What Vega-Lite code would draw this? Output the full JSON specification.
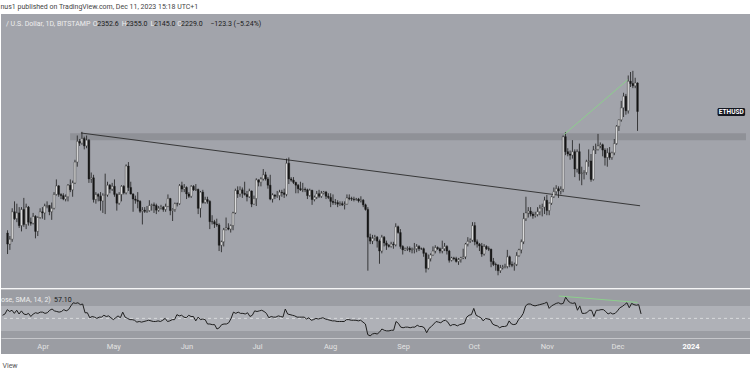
{
"$schema":"https://vega.github.io/schema/vega-lite/v6.json",
"background":"#ffffff",
"padding":{"left":0,"right":0,"top":3,"bottom":0},
"spacing":0,
"title":{"text":"nus1 published on TradingView.com, Dec 11, 2023 15:18 UTC+1","anchor":"start","fontSize":7,"fontWeight":"normal","color":"#444444","font":"Roboto","offset":4},
"config":{"view":{"stroke":null},"font":"Roboto"},
"datasets":{"eth":[
{"d":"2023-03-15","o":1703,"h":1715,"l":1612,"c":1655,"r":55},
{"d":"2023-03-16","o":1655,"h":1690,"l":1630,"c":1676,"r":57},
{"d":"2023-03-17","o":1676,"h":1810,"l":1665,"c":1795,"r":64},
{"d":"2023-03-18","o":1795,"h":1840,"l":1760,"c":1765,"r":61},
{"d":"2023-03-19","o":1765,"h":1830,"l":1750,"c":1790,"r":63},
{"d":"2023-03-20","o":1790,"h":1815,"l":1725,"c":1735,"r":58},
{"d":"2023-03-21","o":1735,"h":1815,"l":1710,"c":1805,"r":63},
{"d":"2023-03-22","o":1805,"h":1855,"l":1730,"c":1740,"r":57},
{"d":"2023-03-23","o":1740,"h":1830,"l":1720,"c":1815,"r":62},
{"d":"2023-03-24","o":1815,"h":1820,"l":1735,"c":1750,"r":57},
{"d":"2023-03-25","o":1750,"h":1770,"l":1735,"c":1745,"r":56},
{"d":"2023-03-26","o":1745,"h":1790,"l":1740,"c":1775,"r":58},
{"d":"2023-03-27","o":1775,"h":1780,"l":1680,"c":1710,"r":53},
{"d":"2023-03-28","o":1710,"h":1775,"l":1690,"c":1770,"r":57},
{"d":"2023-03-29","o":1770,"h":1810,"l":1765,"c":1795,"r":59},
{"d":"2023-03-30","o":1795,"h":1815,"l":1765,"c":1790,"r":58},
{"d":"2023-03-31","o":1790,"h":1830,"l":1760,"c":1820,"r":60},
{"d":"2023-04-01","o":1820,"h":1840,"l":1810,"c":1822,"r":60},
{"d":"2023-04-02","o":1822,"h":1825,"l":1780,"c":1795,"r":58},
{"d":"2023-04-03","o":1795,"h":1835,"l":1760,"c":1810,"r":59},
{"d":"2023-04-04","o":1810,"h":1880,"l":1805,"c":1870,"r":63},
{"d":"2023-04-05","o":1870,"h":1935,"l":1865,"c":1907,"r":65},
{"d":"2023-04-06","o":1907,"h":1910,"l":1860,"c":1870,"r":62},
{"d":"2023-04-07","o":1870,"h":1875,"l":1850,"c":1865,"r":61},
{"d":"2023-04-08","o":1865,"h":1875,"l":1845,"c":1850,"r":60},
{"d":"2023-04-09","o":1850,"h":1870,"l":1840,"c":1860,"r":61},
{"d":"2023-04-10","o":1860,"h":1915,"l":1840,"c":1910,"r":64},
{"d":"2023-04-11","o":1910,"h":1935,"l":1880,"c":1890,"r":62},
{"d":"2023-04-12","o":1890,"h":1930,"l":1860,"c":1920,"r":64},
{"d":"2023-04-13","o":1920,"h":2020,"l":1915,"c":2010,"r":70},
{"d":"2023-04-14","o":2010,"h":2125,"l":1990,"c":2100,"r":75},
{"d":"2023-04-15","o":2100,"h":2110,"l":2080,"c":2092,"r":74},
{"d":"2023-04-16","o":2092,"h":2141,"l":2085,"c":2112,"r":75},
{"d":"2023-04-17","o":2112,"h":2120,"l":2065,"c":2080,"r":72},
{"d":"2023-04-18","o":2080,"h":2125,"l":2070,"c":2105,"r":73},
{"d":"2023-04-19","o":2105,"h":2110,"l":1920,"c":1937,"r":59},
{"d":"2023-04-20","o":1937,"h":1965,"l":1920,"c":1942,"r":59},
{"d":"2023-04-21","o":1942,"h":1955,"l":1835,"c":1848,"r":51},
{"d":"2023-04-22","o":1848,"h":1880,"l":1830,"c":1870,"r":53},
{"d":"2023-04-23","o":1870,"h":1875,"l":1840,"c":1862,"r":52},
{"d":"2023-04-24","o":1862,"h":1880,"l":1800,"c":1842,"r":50},
{"d":"2023-04-25","o":1842,"h":1875,"l":1790,"c":1866,"r":52},
{"d":"2023-04-26","o":1866,"h":1960,"l":1785,"c":1868,"r":52},
{"d":"2023-04-27","o":1868,"h":1925,"l":1860,"c":1910,"r":55},
{"d":"2023-04-28","o":1910,"h":1915,"l":1875,"c":1893,"r":53},
{"d":"2023-04-29","o":1893,"h":1920,"l":1885,"c":1905,"r":54},
{"d":"2023-04-30","o":1905,"h":1935,"l":1860,"c":1870,"r":51},
{"d":"2023-05-01","o":1870,"h":1875,"l":1800,"c":1832,"r":48},
{"d":"2023-05-02","o":1832,"h":1880,"l":1825,"c":1870,"r":51},
{"d":"2023-05-03","o":1870,"h":1910,"l":1840,"c":1905,"r":54},
{"d":"2023-05-04","o":1905,"h":1910,"l":1870,"c":1877,"r":51},
{"d":"2023-05-05","o":1877,"h":2000,"l":1870,"c":1993,"r":60},
{"d":"2023-05-06","o":1993,"h":2010,"l":1885,"c":1900,"r":52},
{"d":"2023-05-07","o":1900,"h":1925,"l":1870,"c":1872,"r":50},
{"d":"2023-05-08","o":1872,"h":1875,"l":1795,"c":1850,"r":48},
{"d":"2023-05-09","o":1850,"h":1865,"l":1830,"c":1845,"r":48},
{"d":"2023-05-10","o":1845,"h":1880,"l":1810,"c":1840,"r":47},
{"d":"2023-05-11","o":1840,"h":1845,"l":1790,"c":1797,"r":44},
{"d":"2023-05-12","o":1797,"h":1815,"l":1740,"c":1802,"r":45},
{"d":"2023-05-13","o":1802,"h":1815,"l":1790,"c":1797,"r":44},
{"d":"2023-05-14","o":1797,"h":1820,"l":1790,"c":1800,"r":45},
{"d":"2023-05-15","o":1800,"h":1845,"l":1795,"c":1822,"r":46},
{"d":"2023-05-16","o":1822,"h":1830,"l":1800,"c":1825,"r":47},
{"d":"2023-05-17","o":1825,"h":1835,"l":1790,"c":1822,"r":46},
{"d":"2023-05-18","o":1822,"h":1830,"l":1785,"c":1802,"r":45},
{"d":"2023-05-19","o":1802,"h":1820,"l":1795,"c":1810,"r":45},
{"d":"2023-05-20","o":1810,"h":1825,"l":1805,"c":1815,"r":46},
{"d":"2023-05-21","o":1815,"h":1820,"l":1795,"c":1805,"r":45},
{"d":"2023-05-22","o":1805,"h":1830,"l":1795,"c":1818,"r":47},
{"d":"2023-05-23","o":1818,"h":1870,"l":1815,"c":1852,"r":50},
{"d":"2023-05-24","o":1852,"h":1855,"l":1780,"c":1800,"r":45},
{"d":"2023-05-25","o":1800,"h":1810,"l":1755,"c":1805,"r":46},
{"d":"2023-05-26","o":1805,"h":1835,"l":1795,"c":1830,"r":48},
{"d":"2023-05-27","o":1830,"h":1835,"l":1818,"c":1830,"r":48},
{"d":"2023-05-28","o":1830,"h":1915,"l":1825,"c":1908,"r":56},
{"d":"2023-05-29","o":1908,"h":1925,"l":1880,"c":1893,"r":54},
{"d":"2023-05-30","o":1893,"h":1915,"l":1880,"c":1900,"r":55},
{"d":"2023-05-31","o":1900,"h":1905,"l":1850,"c":1872,"r":52},
{"d":"2023-06-01","o":1872,"h":1880,"l":1855,"c":1862,"r":51},
{"d":"2023-06-02","o":1862,"h":1910,"l":1855,"c":1905,"r":55},
{"d":"2023-06-03","o":1905,"h":1910,"l":1885,"c":1890,"r":53},
{"d":"2023-06-04","o":1890,"h":1915,"l":1885,"c":1892,"r":53},
{"d":"2023-06-05","o":1892,"h":1895,"l":1785,"c":1810,"r":46},
{"d":"2023-06-06","o":1810,"h":1885,"l":1770,"c":1880,"r":52},
{"d":"2023-06-07","o":1880,"h":1890,"l":1830,"c":1835,"r":48},
{"d":"2023-06-08","o":1835,"h":1860,"l":1830,"c":1848,"r":49},
{"d":"2023-06-09","o":1848,"h":1860,"l":1830,"c":1840,"r":48},
{"d":"2023-06-10","o":1840,"h":1845,"l":1720,"c":1752,"r":41},
{"d":"2023-06-11","o":1752,"h":1780,"l":1740,"c":1752,"r":41},
{"d":"2023-06-12","o":1752,"h":1760,"l":1725,"c":1742,"r":40},
{"d":"2023-06-13","o":1742,"h":1765,"l":1730,"c":1738,"r":40},
{"d":"2023-06-14","o":1738,"h":1745,"l":1625,"c":1650,"r":33},
{"d":"2023-06-15","o":1650,"h":1670,"l":1620,"c":1665,"r":35},
{"d":"2023-06-16","o":1665,"h":1725,"l":1645,"c":1717,"r":40},
{"d":"2023-06-17","o":1717,"h":1770,"l":1715,"c":1725,"r":41},
{"d":"2023-06-18","o":1725,"h":1745,"l":1715,"c":1720,"r":41},
{"d":"2023-06-19","o":1720,"h":1740,"l":1705,"c":1735,"r":43},
{"d":"2023-06-20","o":1735,"h":1795,"l":1715,"c":1790,"r":50},
{"d":"2023-06-21","o":1790,"h":1895,"l":1785,"c":1887,"r":60},
{"d":"2023-06-22","o":1887,"h":1905,"l":1855,"c":1872,"r":58},
{"d":"2023-06-23","o":1872,"h":1905,"l":1860,"c":1890,"r":60},
{"d":"2023-06-24","o":1890,"h":1900,"l":1855,"c":1875,"r":58},
{"d":"2023-06-25","o":1875,"h":1925,"l":1865,"c":1870,"r":58},
{"d":"2023-06-26","o":1870,"h":1885,"l":1840,"c":1860,"r":57},
{"d":"2023-06-27","o":1860,"h":1895,"l":1855,"c":1885,"r":59},
{"d":"2023-06-28","o":1885,"h":1887,"l":1815,"c":1828,"r":53},
{"d":"2023-06-29","o":1828,"h":1865,"l":1825,"c":1852,"r":55},
{"d":"2023-06-30","o":1852,"h":1940,"l":1820,"c":1933,"r":62},
{"d":"2023-07-01","o":1933,"h":1935,"l":1905,"c":1923,"r":61},
{"d":"2023-07-02","o":1923,"h":1945,"l":1905,"c":1937,"r":62},
{"d":"2023-07-03","o":1937,"h":1980,"l":1930,"c":1955,"r":63},
{"d":"2023-07-04","o":1955,"h":1968,"l":1930,"c":1937,"r":61},
{"d":"2023-07-05","o":1937,"h":1945,"l":1895,"c":1910,"r":58},
{"d":"2023-07-06","o":1910,"h":1955,"l":1845,"c":1850,"r":51},
{"d":"2023-07-07","o":1850,"h":1875,"l":1835,"c":1868,"r":53},
{"d":"2023-07-08","o":1868,"h":1870,"l":1850,"c":1862,"r":52},
{"d":"2023-07-09","o":1862,"h":1885,"l":1855,"c":1865,"r":52},
{"d":"2023-07-10","o":1865,"h":1890,"l":1845,"c":1880,"r":54},
{"d":"2023-07-11","o":1880,"h":1890,"l":1860,"c":1877,"r":53},
{"d":"2023-07-12","o":1877,"h":1895,"l":1855,"c":1870,"r":52},
{"d":"2023-07-13","o":1870,"h":2025,"l":1862,"c":2005,"r":65},
{"d":"2023-07-14","o":2005,"h":2030,"l":1915,"c":1937,"r":57},
{"d":"2023-07-15","o":1937,"h":1945,"l":1925,"c":1932,"r":56},
{"d":"2023-07-16","o":1932,"h":1945,"l":1915,"c":1922,"r":55},
{"d":"2023-07-17","o":1922,"h":1925,"l":1875,"c":1910,"r":54},
{"d":"2023-07-18","o":1910,"h":1915,"l":1875,"c":1895,"r":52},
{"d":"2023-07-19","o":1895,"h":1925,"l":1885,"c":1890,"r":52},
{"d":"2023-07-20","o":1890,"h":1920,"l":1880,"c":1892,"r":52},
{"d":"2023-07-21","o":1892,"h":1900,"l":1880,"c":1890,"r":52},
{"d":"2023-07-22","o":1890,"h":1895,"l":1850,"c":1865,"r":49},
{"d":"2023-07-23","o":1865,"h":1895,"l":1860,"c":1888,"r":51},
{"d":"2023-07-24","o":1888,"h":1890,"l":1825,"c":1848,"r":47},
{"d":"2023-07-25","o":1848,"h":1865,"l":1840,"c":1858,"r":48},
{"d":"2023-07-26","o":1858,"h":1885,"l":1850,"c":1873,"r":50},
{"d":"2023-07-27","o":1873,"h":1890,"l":1855,"c":1862,"r":49},
{"d":"2023-07-28","o":1862,"h":1885,"l":1855,"c":1875,"r":50},
{"d":"2023-07-29","o":1875,"h":1885,"l":1870,"c":1880,"r":51},
{"d":"2023-07-30","o":1880,"h":1885,"l":1850,"c":1862,"r":49},
{"d":"2023-07-31","o":1862,"h":1875,"l":1850,"c":1857,"r":48},
{"d":"2023-08-01","o":1857,"h":1875,"l":1815,"c":1840,"r":47},
{"d":"2023-08-02","o":1840,"h":1870,"l":1825,"c":1835,"r":46},
{"d":"2023-08-03","o":1835,"h":1850,"l":1825,"c":1835,"r":46},
{"d":"2023-08-04","o":1835,"h":1845,"l":1815,"c":1828,"r":45},
{"d":"2023-08-05","o":1828,"h":1840,"l":1820,"c":1830,"r":45},
{"d":"2023-08-06","o":1830,"h":1840,"l":1820,"c":1825,"r":45},
{"d":"2023-08-07","o":1825,"h":1840,"l":1805,"c":1828,"r":45},
{"d":"2023-08-08","o":1828,"h":1870,"l":1825,"c":1855,"r":48},
{"d":"2023-08-09","o":1855,"h":1870,"l":1845,"c":1852,"r":48},
{"d":"2023-08-10","o":1852,"h":1860,"l":1842,"c":1850,"r":47},
{"d":"2023-08-11","o":1850,"h":1860,"l":1840,"c":1848,"r":47},
{"d":"2023-08-12","o":1848,"h":1855,"l":1843,"c":1850,"r":47},
{"d":"2023-08-13","o":1850,"h":1855,"l":1835,"c":1842,"r":46},
{"d":"2023-08-14","o":1842,"h":1862,"l":1835,"c":1845,"r":47},
{"d":"2023-08-15","o":1845,"h":1850,"l":1815,"c":1825,"r":44},
{"d":"2023-08-16","o":1825,"h":1830,"l":1800,"c":1805,"r":41},
{"d":"2023-08-17","o":1805,"h":1815,"l":1540,"c":1685,"r":24},
{"d":"2023-08-18","o":1685,"h":1700,"l":1655,"c":1668,"r":22},
{"d":"2023-08-19","o":1668,"h":1695,"l":1655,"c":1680,"r":25},
{"d":"2023-08-20","o":1680,"h":1695,"l":1670,"c":1685,"r":26},
{"d":"2023-08-21","o":1685,"h":1690,"l":1640,"c":1668,"r":25},
{"d":"2023-08-22","o":1668,"h":1675,"l":1570,"c":1625,"r":28},
{"d":"2023-08-23","o":1625,"h":1695,"l":1615,"c":1685,"r":33},
{"d":"2023-08-24","o":1685,"h":1690,"l":1645,"c":1660,"r":31},
{"d":"2023-08-25","o":1660,"h":1670,"l":1630,"c":1650,"r":30},
{"d":"2023-08-26","o":1650,"h":1655,"l":1640,"c":1645,"r":30},
{"d":"2023-08-27","o":1645,"h":1665,"l":1640,"c":1655,"r":31},
{"d":"2023-08-28","o":1655,"h":1665,"l":1635,"c":1652,"r":31},
{"d":"2023-08-29","o":1652,"h":1745,"l":1645,"c":1730,"r":45},
{"d":"2023-08-30","o":1730,"h":1735,"l":1700,"c":1705,"r":42},
{"d":"2023-08-31","o":1705,"h":1720,"l":1635,"c":1645,"r":36},
{"d":"2023-09-01","o":1645,"h":1650,"l":1610,"c":1630,"r":35},
{"d":"2023-09-02","o":1630,"h":1640,"l":1625,"c":1635,"r":36},
{"d":"2023-09-03","o":1635,"h":1645,"l":1625,"c":1637,"r":36},
{"d":"2023-09-04","o":1637,"h":1645,"l":1620,"c":1630,"r":35},
{"d":"2023-09-05","o":1630,"h":1640,"l":1615,"c":1632,"r":36},
{"d":"2023-09-06","o":1632,"h":1660,"l":1615,"c":1635,"r":36},
{"d":"2023-09-07","o":1635,"h":1655,"l":1620,"c":1645,"r":39},
{"d":"2023-09-08","o":1645,"h":1650,"l":1625,"c":1635,"r":37},
{"d":"2023-09-09","o":1635,"h":1640,"l":1630,"c":1635,"r":37},
{"d":"2023-09-10","o":1635,"h":1640,"l":1600,"c":1615,"r":35},
{"d":"2023-09-11","o":1615,"h":1620,"l":1532,"c":1550,"r":27},
{"d":"2023-09-12","o":1550,"h":1610,"l":1545,"c":1592,"r":34},
{"d":"2023-09-13","o":1592,"h":1615,"l":1580,"c":1608,"r":37},
{"d":"2023-09-14","o":1608,"h":1645,"l":1605,"c":1625,"r":41},
{"d":"2023-09-15","o":1625,"h":1650,"l":1615,"c":1640,"r":45},
{"d":"2023-09-16","o":1640,"h":1645,"l":1630,"c":1635,"r":44},
{"d":"2023-09-17","o":1635,"h":1640,"l":1615,"c":1625,"r":43},
{"d":"2023-09-18","o":1625,"h":1670,"l":1615,"c":1635,"r":46},
{"d":"2023-09-19","o":1635,"h":1660,"l":1625,"c":1645,"r":47},
{"d":"2023-09-20","o":1645,"h":1650,"l":1610,"c":1625,"r":44},
{"d":"2023-09-21","o":1625,"h":1630,"l":1575,"c":1585,"r":38},
{"d":"2023-09-22","o":1585,"h":1600,"l":1580,"c":1595,"r":40},
{"d":"2023-09-23","o":1595,"h":1600,"l":1585,"c":1592,"r":40},
{"d":"2023-09-24","o":1592,"h":1600,"l":1575,"c":1580,"r":38},
{"d":"2023-09-25","o":1580,"h":1595,"l":1565,"c":1588,"r":40},
{"d":"2023-09-26","o":1588,"h":1600,"l":1575,"c":1595,"r":41},
{"d":"2023-09-27","o":1595,"h":1635,"l":1590,"c":1600,"r":42},
{"d":"2023-09-28","o":1600,"h":1660,"l":1590,"c":1655,"r":52},
{"d":"2023-09-29","o":1655,"h":1685,"l":1645,"c":1667,"r":55},
{"d":"2023-09-30","o":1667,"h":1680,"l":1660,"c":1672,"r":56},
{"d":"2023-10-01","o":1672,"h":1750,"l":1665,"c":1735,"r":66},
{"d":"2023-10-02","o":1735,"h":1750,"l":1650,"c":1665,"r":55},
{"d":"2023-10-03","o":1665,"h":1675,"l":1640,"c":1655,"r":53},
{"d":"2023-10-04","o":1655,"h":1660,"l":1625,"c":1647,"r":51},
{"d":"2023-10-05","o":1647,"h":1660,"l":1600,"c":1612,"r":46},
{"d":"2023-10-06","o":1612,"h":1655,"l":1605,"c":1645,"r":50},
{"d":"2023-10-07","o":1645,"h":1650,"l":1630,"c":1635,"r":49},
{"d":"2023-10-08","o":1635,"h":1645,"l":1625,"c":1633,"r":48},
{"d":"2023-10-09","o":1633,"h":1635,"l":1555,"c":1580,"r":41},
{"d":"2023-10-10","o":1580,"h":1595,"l":1560,"c":1567,"r":39},
{"d":"2023-10-11","o":1567,"h":1575,"l":1540,"c":1565,"r":38},
{"d":"2023-10-12","o":1565,"h":1568,"l":1520,"c":1540,"r":35},
{"d":"2023-10-13","o":1540,"h":1565,"l":1530,"c":1552,"r":37},
{"d":"2023-10-14","o":1552,"h":1565,"l":1545,"c":1555,"r":37},
{"d":"2023-10-15","o":1555,"h":1570,"l":1550,"c":1558,"r":38},
{"d":"2023-10-16","o":1558,"h":1630,"l":1550,"c":1600,"r":46},
{"d":"2023-10-17","o":1600,"h":1605,"l":1555,"c":1567,"r":41},
{"d":"2023-10-18","o":1567,"h":1580,"l":1555,"c":1563,"r":40},
{"d":"2023-10-19","o":1563,"h":1575,"l":1540,"c":1567,"r":41},
{"d":"2023-10-20","o":1567,"h":1620,"l":1560,"c":1605,"r":48},
{"d":"2023-10-21","o":1605,"h":1635,"l":1600,"c":1630,"r":52},
{"d":"2023-10-22","o":1630,"h":1675,"l":1615,"c":1665,"r":58},
{"d":"2023-10-23","o":1665,"h":1790,"l":1655,"c":1765,"r":70},
{"d":"2023-10-24","o":1765,"h":1860,"l":1755,"c":1790,"r":73},
{"d":"2023-10-25","o":1790,"h":1815,"l":1770,"c":1798,"r":73},
{"d":"2023-10-26","o":1798,"h":1815,"l":1775,"c":1785,"r":71},
{"d":"2023-10-27","o":1785,"h":1795,"l":1765,"c":1778,"r":70},
{"d":"2023-10-28","o":1778,"h":1795,"l":1770,"c":1783,"r":71},
{"d":"2023-10-29","o":1783,"h":1815,"l":1775,"c":1795,"r":72},
{"d":"2023-10-30","o":1795,"h":1825,"l":1780,"c":1810,"r":73},
{"d":"2023-10-31","o":1810,"h":1830,"l":1775,"c":1815,"r":74},
{"d":"2023-11-01","o":1815,"h":1860,"l":1785,"c":1845,"r":76},
{"d":"2023-11-02","o":1845,"h":1868,"l":1780,"c":1800,"r":66},
{"d":"2023-11-03","o":1800,"h":1835,"l":1780,"c":1832,"r":70},
{"d":"2023-11-04","o":1832,"h":1865,"l":1825,"c":1860,"r":72},
{"d":"2023-11-05","o":1860,"h":1900,"l":1855,"c":1882,"r":74},
{"d":"2023-11-06","o":1882,"h":1910,"l":1870,"c":1895,"r":75},
{"d":"2023-11-07","o":1895,"h":1905,"l":1855,"c":1885,"r":73},
{"d":"2023-11-08","o":1885,"h":1905,"l":1870,"c":1892,"r":74},
{"d":"2023-11-09","o":1892,"h":2125,"l":1880,"c":2120,"r":84},
{"d":"2023-11-10","o":2120,"h":2140,"l":2040,"c":2055,"r":78},
{"d":"2023-11-11","o":2055,"h":2070,"l":2035,"c":2045,"r":75},
{"d":"2023-11-12","o":2045,"h":2060,"l":2020,"c":2040,"r":74},
{"d":"2023-11-13","o":2040,"h":2105,"l":2025,"c":2055,"r":75},
{"d":"2023-11-14","o":2055,"h":2065,"l":1945,"c":1980,"r":63},
{"d":"2023-11-15","o":1980,"h":2065,"l":1965,"c":2055,"r":70},
{"d":"2023-11-16","o":2055,"h":2090,"l":1930,"c":1960,"r":58},
{"d":"2023-11-17","o":1960,"h":1990,"l":1910,"c":1962,"r":58},
{"d":"2023-11-18","o":1962,"h":1975,"l":1935,"c":1965,"r":59},
{"d":"2023-11-19","o":1965,"h":2020,"l":1955,"c":2012,"r":63},
{"d":"2023-11-20","o":2012,"h":2065,"l":1990,"c":2015,"r":63},
{"d":"2023-11-21","o":2015,"h":2045,"l":1925,"c":1935,"r":53},
{"d":"2023-11-22","o":1935,"h":2080,"l":1930,"c":2062,"r":63},
{"d":"2023-11-23","o":2062,"h":2090,"l":2045,"c":2065,"r":63},
{"d":"2023-11-24","o":2065,"h":2132,"l":2060,"c":2080,"r":64},
{"d":"2023-11-25","o":2080,"h":2095,"l":2070,"c":2085,"r":64},
{"d":"2023-11-26","o":2085,"h":2090,"l":2035,"c":2062,"r":61},
{"d":"2023-11-27","o":2062,"h":2070,"l":1995,"c":2030,"r":57},
{"d":"2023-11-28","o":2030,"h":2070,"l":1990,"c":2050,"r":59},
{"d":"2023-11-29","o":2050,"h":2075,"l":2020,"c":2030,"r":57},
{"d":"2023-11-30","o":2030,"h":2055,"l":2020,"c":2050,"r":58},
{"d":"2023-12-01","o":2050,"h":2110,"l":2040,"c":2090,"r":62},
{"d":"2023-12-02","o":2090,"h":2170,"l":2085,"c":2165,"r":67},
{"d":"2023-12-03","o":2165,"h":2195,"l":2145,"c":2193,"r":69},
{"d":"2023-12-04","o":2193,"h":2275,"l":2185,"c":2245,"r":72},
{"d":"2023-12-05","o":2245,"h":2310,"l":2205,"c":2295,"r":75},
{"d":"2023-12-06","o":2295,"h":2305,"l":2215,"c":2232,"r":67},
{"d":"2023-12-07","o":2232,"h":2385,"l":2220,"c":2360,"r":74},
{"d":"2023-12-08","o":2360,"h":2400,"l":2335,"c":2350,"r":72},
{"d":"2023-12-09","o":2350,"h":2405,"l":2330,"c":2340,"r":71},
{"d":"2023-12-10","o":2340,"h":2375,"l":2330,"c":2352.6,"r":72},
{"d":"2023-12-11","o":2352.6,"h":2355,"l":2145,"c":2229,"r":57.1}
]},
"vconcat":[
{"width":750,"height":274,"view":{"fill":"#a2a4ab","stroke":null},"data":{"name":"eth"},
"layer":[
{"data":{"values":[{}]},"mark":{"type":"rect","color":"#8f9197"},"encoding":{
 "x":{"datum":{"year":2023,"month":4,"date":10,"hours":22,"utc":true},"type":"temporal","scale":{"type":"utc","domain":[{"year":2023,"month":3,"date":14,"hours":8,"utc":true},{"year":2024,"month":1,"date":26,"hours":16,"utc":true}]},"axis":null},
 "x2":{"datum":{"year":2024,"month":1,"date":26,"hours":16,"utc":true}},
 "y":{"datum":2135,"type":"quantitative","scale":{"domain":[1465,2651]},"axis":null},"y2":{"datum":2105}}},
{"data":{"values":[{}]},"mark":{"type":"rule","color":"#2b2b2b","strokeWidth":0.9},"encoding":{
 "x":{"datum":{"year":2023,"month":4,"date":15,"hours":14,"utc":true},"type":"temporal","scale":{"type":"utc","domain":[{"year":2023,"month":3,"date":14,"hours":8,"utc":true},{"year":2024,"month":1,"date":26,"hours":16,"utc":true}]},"axis":null},
 "x2":{"datum":{"year":2023,"month":12,"date":12,"hours":2,"utc":true}},
 "y":{"datum":2136,"type":"quantitative","scale":{"domain":[1465,2651]},"axis":null},"y2":{"datum":1821}}},
{"mark":{"type":"rule","color":"#1c1c1c","strokeWidth":0.8,"clip":true},"encoding":{
 "x":{"field":"d","type":"temporal","scale":{"type":"utc","domain":[{"year":2023,"month":3,"date":14,"hours":8,"utc":true},{"year":2024,"month":1,"date":26,"hours":16,"utc":true}]},"axis":null},
 "y":{"field":"l","type":"quantitative","scale":{"domain":[1465,2651]},"axis":null},"y2":{"field":"h"}}},
{"mark":{"type":"bar","size":1.7,"stroke":"#1c1c1c","strokeWidth":0.4,"clip":true},"encoding":{
 "x":{"field":"d","type":"temporal","scale":{"type":"utc","domain":[{"year":2023,"month":3,"date":14,"hours":8,"utc":true},{"year":2024,"month":1,"date":26,"hours":16,"utc":true}]},"axis":null},
 "y":{"field":"o","type":"quantitative","scale":{"domain":[1465,2651]},"axis":null},"y2":{"field":"c"},
 "fill":{"condition":{"test":"datum.c >= datum.o","value":"#f4f4f4"},"value":"#141414"}}},
{"data":{"values":[{}]},"mark":{"type":"rule","color":"#8ccf8c","strokeWidth":1},"encoding":{
 "x":{"datum":{"year":2023,"month":11,"date":9,"hours":12,"utc":true},"type":"temporal","scale":{"type":"utc","domain":[{"year":2023,"month":3,"date":14,"hours":8,"utc":true},{"year":2024,"month":1,"date":26,"hours":16,"utc":true}]},"axis":null},
 "x2":{"datum":{"year":2023,"month":12,"date":6,"hours":18,"utc":true}},
 "y":{"datum":2130,"type":"quantitative","scale":{"domain":[1465,2651]},"axis":null},"y2":{"datum":2366}}},
{"data":{"values":[{}]},"mark":{"type":"rect","color":"#151821","cornerRadius":1.5},"encoding":{
 "x":{"datum":{"year":2024,"month":1,"date":14,"hours":10,"utc":true},"type":"temporal","scale":{"type":"utc","domain":[{"year":2023,"month":3,"date":14,"hours":8,"utc":true},{"year":2024,"month":1,"date":26,"hours":16,"utc":true}]},"axis":null},
 "x2":{"datum":{"year":2024,"month":1,"date":26,"hours":7,"utc":true}},
 "y":{"datum":2244,"type":"quantitative","scale":{"domain":[1465,2651]},"axis":null},"y2":{"datum":2210}}},
{"data":{"values":[{}]},"mark":{"type":"text","text":"ETHUSD","color":"#ffffff","fontSize":6.5,"fontWeight":"bold","align":"center","baseline":"middle"},"encoding":{
 "x":{"datum":{"year":2024,"month":1,"date":20,"hours":8,"utc":true},"type":"temporal","scale":{"type":"utc","domain":[{"year":2023,"month":3,"date":14,"hours":8,"utc":true},{"year":2024,"month":1,"date":26,"hours":16,"utc":true}]},"axis":null},
 "y":{"datum":2227,"type":"quantitative","scale":{"domain":[1465,2651]},"axis":null}}},
{"data":{"values":[{}]},"mark":{"type":"text","text":"/ U.S. Dollar, 1D, BITSTAMP","color":"#eeeeee","fontSize":7,"align":"left","baseline":"middle"},"encoding":{
 "x":{"datum":{"year":2023,"month":3,"date":14,"hours":8,"utc":true},"type":"temporal","scale":{"type":"utc","domain":[{"year":2023,"month":3,"date":14,"hours":8,"utc":true},{"year":2024,"month":1,"date":26,"hours":16,"utc":true}]},"axis":null},
 "y":{"datum":2608,"type":"quantitative","scale":{"domain":[1465,2651]},"axis":null}}},
{"data":{"values":[{}]},"mark":{"type":"text","text":"O","color":"#eeeeee","fontSize":7,"align":"left","baseline":"middle"},"encoding":{
 "x":{"datum":{"year":2023,"month":4,"date":20,"hours":16,"utc":true},"type":"temporal","scale":{"type":"utc","domain":[{"year":2023,"month":3,"date":14,"hours":8,"utc":true},{"year":2024,"month":1,"date":26,"hours":16,"utc":true}]},"axis":null},
 "y":{"datum":2608,"type":"quantitative","scale":{"domain":[1465,2651]},"axis":null}}},
{"data":{"values":[{}]},"mark":{"type":"text","text":"2352.6","color":"#1a1a1a","fontSize":7,"align":"left","baseline":"middle"},"encoding":{
 "x":{"datum":{"year":2023,"month":4,"date":22,"hours":14,"utc":true},"type":"temporal","scale":{"type":"utc","domain":[{"year":2023,"month":3,"date":14,"hours":8,"utc":true},{"year":2024,"month":1,"date":26,"hours":16,"utc":true}]},"axis":null},
 "y":{"datum":2608,"type":"quantitative","scale":{"domain":[1465,2651]},"axis":null}}},
{"data":{"values":[{}]},"mark":{"type":"text","text":"H","color":"#eeeeee","fontSize":7,"align":"left","baseline":"middle"},"encoding":{
 "x":{"datum":{"year":2023,"month":5,"date":3,"hours":3,"utc":true},"type":"temporal","scale":{"type":"utc","domain":[{"year":2023,"month":3,"date":14,"hours":8,"utc":true},{"year":2024,"month":1,"date":26,"hours":16,"utc":true}]},"axis":null},
 "y":{"datum":2608,"type":"quantitative","scale":{"domain":[1465,2651]},"axis":null}}},
{"data":{"values":[{}]},"mark":{"type":"text","text":"2355.0","color":"#1a1a1a","fontSize":7,"align":"left","baseline":"middle"},"encoding":{
 "x":{"datum":{"year":2023,"month":5,"date":4,"hours":22,"utc":true},"type":"temporal","scale":{"type":"utc","domain":[{"year":2023,"month":3,"date":14,"hours":8,"utc":true},{"year":2024,"month":1,"date":26,"hours":16,"utc":true}]},"axis":null},
 "y":{"datum":2608,"type":"quantitative","scale":{"domain":[1465,2651]},"axis":null}}},
{"data":{"values":[{}]},"mark":{"type":"text","text":"L","color":"#eeeeee","fontSize":7,"align":"left","baseline":"middle"},"encoding":{
 "x":{"datum":{"year":2023,"month":5,"date":15,"hours":12,"utc":true},"type":"temporal","scale":{"type":"utc","domain":[{"year":2023,"month":3,"date":14,"hours":8,"utc":true},{"year":2024,"month":1,"date":26,"hours":16,"utc":true}]},"axis":null},
 "y":{"datum":2608,"type":"quantitative","scale":{"domain":[1465,2651]},"axis":null}}},
{"data":{"values":[{}]},"mark":{"type":"text","text":"2145.0","color":"#1a1a1a","fontSize":7,"align":"left","baseline":"middle"},"encoding":{
 "x":{"datum":{"year":2023,"month":5,"date":17,"hours":0,"utc":true},"type":"temporal","scale":{"type":"utc","domain":[{"year":2023,"month":3,"date":14,"hours":8,"utc":true},{"year":2024,"month":1,"date":26,"hours":16,"utc":true}]},"axis":null},
 "y":{"datum":2608,"type":"quantitative","scale":{"domain":[1465,2651]},"axis":null}}},
{"data":{"values":[{}]},"mark":{"type":"text","text":"C","color":"#eeeeee","fontSize":7,"align":"left","baseline":"middle"},"encoding":{
 "x":{"datum":{"year":2023,"month":5,"date":26,"hours":23,"utc":true},"type":"temporal","scale":{"type":"utc","domain":[{"year":2023,"month":3,"date":14,"hours":8,"utc":true},{"year":2024,"month":1,"date":26,"hours":16,"utc":true}]},"axis":null},
 "y":{"datum":2608,"type":"quantitative","scale":{"domain":[1465,2651]},"axis":null}}},
{"data":{"values":[{}]},"mark":{"type":"text","text":"2229.0","color":"#1a1a1a","fontSize":7,"align":"left","baseline":"middle"},"encoding":{
 "x":{"datum":{"year":2023,"month":5,"date":28,"hours":16,"utc":true},"type":"temporal","scale":{"type":"utc","domain":[{"year":2023,"month":3,"date":14,"hours":8,"utc":true},{"year":2024,"month":1,"date":26,"hours":16,"utc":true}]},"axis":null},
 "y":{"datum":2608,"type":"quantitative","scale":{"domain":[1465,2651]},"axis":null}}},
{"data":{"values":[{}]},"mark":{"type":"text","text":"−123.3 (−5.24%)","color":"#1a1a1a","fontSize":7,"align":"left","baseline":"middle"},"encoding":{
 "x":{"datum":{"year":2023,"month":6,"date":10,"hours":5,"utc":true},"type":"temporal","scale":{"type":"utc","domain":[{"year":2023,"month":3,"date":14,"hours":8,"utc":true},{"year":2024,"month":1,"date":26,"hours":16,"utc":true}]},"axis":null},
 "y":{"datum":2608,"type":"quantitative","scale":{"domain":[1465,2651]},"axis":null}}}
]},
{"width":750,"height":65,"view":{"fill":"#9b9da3","stroke":null},"data":{"name":"eth"},
"layer":[
{"data":{"values":[{}]},"mark":{"type":"rect","color":"#afb1b7"},"encoding":{
 "y":{"datum":70,"type":"quantitative","scale":{"domain":[-7,97]},"axis":null},"y2":{"datum":30}}},
{"data":{"values":[{}]},"mark":{"type":"rule","color":"#c6c7cb","strokeWidth":1},"encoding":{
 "y":{"datum":96.5,"type":"quantitative","scale":{"domain":[-7,97]},"axis":null}}},
{"data":{"values":[{}]},"mark":{"type":"rule","color":"#d8d9dc","strokeWidth":1,"strokeDash":[3,3]},"encoding":{
 "y":{"datum":50,"type":"quantitative","scale":{"domain":[-7,97]},"axis":null}}},
{"mark":{"type":"line","color":"#1f1f1f","strokeWidth":1,"clip":true},"encoding":{
 "x":{"field":"d","type":"temporal","scale":{"type":"utc","domain":[{"year":2023,"month":3,"date":14,"hours":8,"utc":true},{"year":2024,"month":1,"date":26,"hours":16,"utc":true}]},
  "axis":{"orient":"bottom","offset":-16,"domainColor":"#c6c7cb","domainWidth":1,"ticks":false,"grid":false,"labelColor":{"condition":{"test":"utcmonth(datum.value)==0","value":"#ffffff"},"value":"#e2e2e2"},"labelFontWeight":{"condition":{"test":"utcmonth(datum.value)==0","value":"bold"},"value":"normal"},"labelFontSize":7.5,"labelPadding":4,"labelFont":"Roboto","tickCount":{"interval":"month","step":1},"labelExpr":"utcmonth(datum.value)==0 ? utcFormat(datum.value,'%Y') : utcFormat(datum.value,'%b')","labelOverlap":false,"labelFlush":false,
  "title":"View","titleX":1,"titleY":27,"titleAnchor":"start","titleAlign":"left","titleBaseline":"middle","titleFontSize":7,"titleFontWeight":"normal","titleColor":"#555555","titleFont":"Roboto"}},
 "y":{"field":"r","type":"quantitative","scale":{"domain":[-7,97]},"axis":null}}},
{"data":{"values":[{}]},"mark":{"type":"rule","color":"#8ccf8c","strokeWidth":1},"encoding":{
 "x":{"datum":{"year":2023,"month":11,"date":6,"hours":1,"utc":true},"type":"temporal","scale":{"type":"utc","domain":[{"year":2023,"month":3,"date":14,"hours":8,"utc":true},{"year":2024,"month":1,"date":26,"hours":16,"utc":true}]}},
 "x2":{"datum":{"year":2023,"month":12,"date":9,"hours":12,"utc":true}},
 "y":{"datum":85.8,"type":"quantitative","scale":{"domain":[-7,97]},"axis":null},"y2":{"datum":75.5}}},
{"data":{"values":[{}]},"mark":{"type":"text","text":"ose, SMA, 14, 2)","color":"#eeeeee","fontSize":7,"align":"left","baseline":"middle"},"encoding":{
 "x":{"datum":{"year":2023,"month":3,"date":14,"hours":8,"utc":true},"type":"temporal","scale":{"type":"utc","domain":[{"year":2023,"month":3,"date":14,"hours":8,"utc":true},{"year":2024,"month":1,"date":26,"hours":16,"utc":true}]}},
 "y":{"datum":79.4,"type":"quantitative","scale":{"domain":[-7,97]},"axis":null}}},
{"data":{"values":[{}]},"mark":{"type":"text","text":"57.10","color":"#1a1a1a","fontSize":7,"align":"left","baseline":"middle"},"encoding":{
 "x":{"datum":{"year":2023,"month":4,"date":5,"hours":20,"utc":true},"type":"temporal","scale":{"type":"utc","domain":[{"year":2023,"month":3,"date":14,"hours":8,"utc":true},{"year":2024,"month":1,"date":26,"hours":16,"utc":true}]}},
 "y":{"datum":79.4,"type":"quantitative","scale":{"domain":[-7,97]},"axis":null}}}
]}
]
}
